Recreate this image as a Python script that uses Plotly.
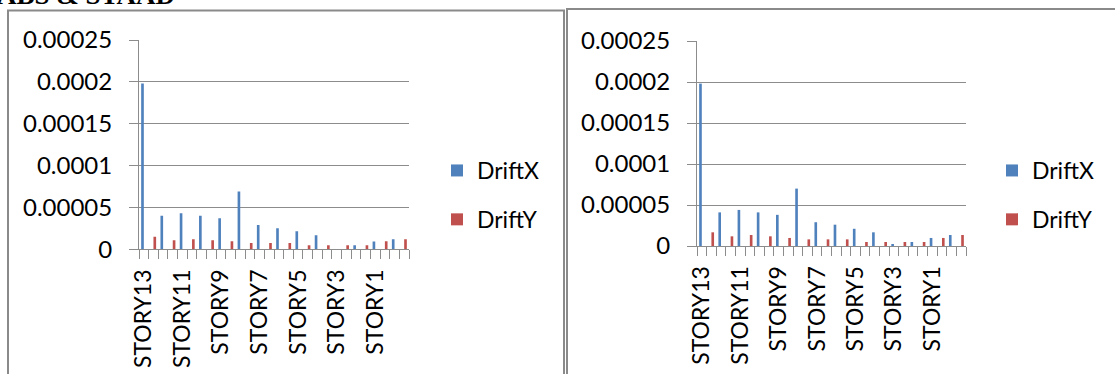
import plotly.graph_objects as go

# Story drift rows: one row for the X drift and one for the Y drift of each level
rows = [
    "STORY13", "STORY13", "STORY12", "STORY12", "STORY11", "STORY11",
    "STORY10", "STORY10", "STORY9", "STORY9", "STORY8", "STORY8",
    "STORY7", "STORY7", "STORY6", "STORY6", "STORY5", "STORY5",
    "STORY4", "STORY4", "STORY3", "STORY3", "STORY2", "STORY2",
    "STORY1", "STORY1", "BASE", "BASE",
]

# ETABS results
etabs_drift_x = [0.000198, None, 0.000040, None, 0.000043, None, 0.000040, None,
                 0.000037, None, 0.000069, None, 0.000029, None, 0.000025, None,
                 0.0000215, None, 0.0000167, None, 0.0, None, 0.0000048, None,
                 0.0000092, None, 0.000012, None]
etabs_drift_y = [None, 0.000015, None, 0.0000108, None, 0.000012, None, 0.0000108,
                 None, 0.0000096, None, 0.0000076, None, 0.0000076, None, 0.0000076,
                 None, 0.0000048, None, 0.0000048, None, 0.0000048, None, 0.0000048,
                 None, 0.0000096, None, 0.000012]

# STAAD results
staad_drift_x = [0.000198, None, 0.000041, None, 0.000044, None, 0.000041, None,
                 0.000038, None, 0.000070, None, 0.000029, None, 0.000026, None,
                 0.000021, None, 0.0000167, None, 0.000002, None, 0.0000049, None,
                 0.0000098, None, 0.0000134, None]
staad_drift_y = [None, 0.0000167, None, 0.0000118, None, 0.0000134, None, 0.0000118,
                 None, 0.0000098, None, 0.0000081, None, 0.0000081, None, 0.0000081,
                 None, 0.0000049, None, 0.0000049, None, 0.0000049, None, 0.0000049,
                 None, 0.0000098, None, 0.0000134]

y_ticks = [0, 0.00005, 0.0001, 0.00015, 0.0002, 0.00025]
y_tick_text = ["0", "0.00005", "0.0001", "0.00015", "0.0002", "0.00025"]

W, H = 1115, 374
BLUE = "#4F81BD"
RED = "#C0504D"
GRID = "#8C8C8C"
FONT = "Lato"

idx = list(range(len(rows)))
label_idx = idx[::4]
label_text = [rows[i] for i in label_idx]


def px_x(p):
    return p / W


def px_y(p):
    return 1 - p / H


fig = go.Figure()
fig.add_trace(go.Bar(x=idx, y=etabs_drift_x, name="DriftX", marker_color=BLUE,
                     xaxis="x", yaxis="y", legend="legend", legendgroup="ex"))
fig.add_trace(go.Bar(x=idx, y=etabs_drift_y, name="DriftY", marker_color=RED,
                     xaxis="x", yaxis="y", legend="legend", legendgroup="ey"))
fig.add_trace(go.Bar(x=idx, y=staad_drift_x, name="DriftX", marker_color=BLUE,
                     xaxis="x2", yaxis="y2", legend="legend2", legendgroup="sx"))
fig.add_trace(go.Bar(x=idx, y=staad_drift_y, name="DriftY", marker_color=RED,
                     xaxis="x2", yaxis="y2", legend="legend2", legendgroup="sy"))
fig.update_traces(marker_line_width=0)


def x_axis(domain, anchor):
    return dict(
        domain=domain, anchor=anchor, range=[-0.5, len(rows) - 0.5],
        automargin=False,
        tickmode="array", tickvals=label_idx, ticktext=label_text,
        tickangle=-90, ticks="", showgrid=False, zeroline=False,
        showline=True, linecolor=GRID, linewidth=1,
        tickfont=dict(family=FONT, size=23, color="#000000"),
        ticklabelstandoff=10,
        minor=dict(tickmode="linear", tick0=-0.5, dtick=1, ticks="outside",
                   ticklen=9, tickcolor=GRID, tickwidth=1, showgrid=False),
    )


def y_axis(domain, anchor):
    return dict(
        domain=domain, anchor=anchor, range=[0, 0.00025],
        automargin=False,
        tickmode="array", tickvals=y_ticks, ticktext=y_tick_text,
        ticks="outside", ticklen=9, tickcolor=GRID, tickwidth=1,
        showgrid=True, gridcolor=GRID, gridwidth=1, zeroline=False,
        showline=True, linecolor=GRID, linewidth=1,
        tickfont=dict(family=FONT, size=24, color="#000000"),
        ticklabelstandoff=12,
    )


legend_style = dict(
    font=dict(family=FONT, size=23, color="#000000"),
    bgcolor="rgba(0,0,0,0)", borderwidth=0, tracegroupgap=16,
    itemwidth=30, xanchor="left", yanchor="top", traceorder="grouped",
)

fig.update_layout(
    width=W, height=H,
    margin=dict(l=0, r=0, t=0, b=0, autoexpand=False),
    paper_bgcolor="white", plot_bgcolor="white",
    barmode="group", bargap=0.45, bargroupgap=0,
    xaxis=x_axis([px_x(139), px_x(409)], "y"),
    yaxis=y_axis([px_y(249.3), px_y(40)], "x"),
    xaxis2=x_axis([px_x(697), px_x(966)], "y2"),
    yaxis2=y_axis([px_y(246), px_y(41)], "x2"),
    legend=dict(x=px_x(437), y=px_y(149), **legend_style),
    legend2=dict(x=px_x(992), y=px_y(149), **legend_style),
    shapes=[
        dict(type="rect", xref="paper", yref="paper",
             x0=px_x(8), x1=px_x(564), y0=px_y(390), y1=px_y(10.5),
             line=dict(color="#8A8A8A", width=2), fillcolor="rgba(0,0,0,0)"),
        dict(type="rect", xref="paper", yref="paper",
             x0=px_x(567), x1=px_x(1125), y0=px_y(390), y1=px_y(9),
             line=dict(color="#8A8A8A", width=2), fillcolor="rgba(0,0,0,0)"),
    ],
    annotations=[
        dict(text="<b>ABS &amp; STAAD</b>", xref="paper", yref="paper",
             x=0, y=px_y(12), xanchor="left", yanchor="bottom", showarrow=False,
             xshift=-5,
             font=dict(family="Liberation Serif", size=27, color="#000000")),
    ],
)

fig.write_html("out.html")
